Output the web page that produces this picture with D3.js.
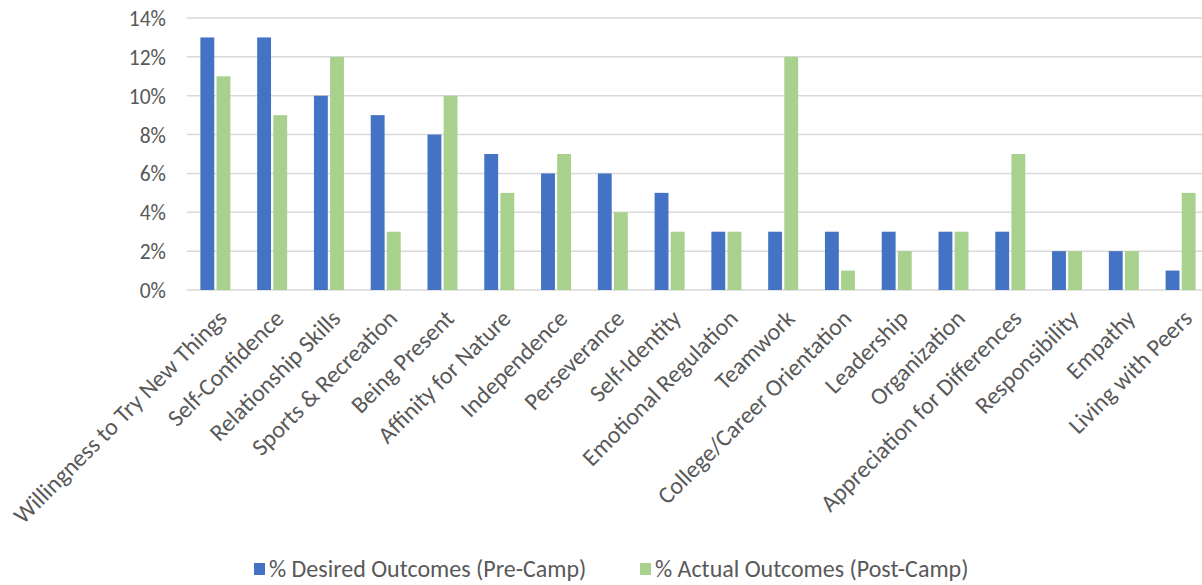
<!DOCTYPE html>
<html><head><meta charset="utf-8">
<script src="https://cdn.jsdelivr.net/npm/d3@7/dist/d3.min.js"></script>
<style>body{margin:0;background:#fff}svg{display:block}text{font-family:"Carlito","Calibri","Open Sans",sans-serif;fill:#595959}</style>
</head><body>
<script>
const categories = ["Willingness to Try New Things","Self-Confidence","Relationship Skills","Sports & Recreation","Being Present","Affinity for Nature","Independence","Perseverance","Self-Identity","Emotional Regulation","Teamwork","College/Career Orientation","Leadership","Organization","Appreciation for Differences","Responsibility","Empathy","Living with Peers"];
const desired = [13,13,10,9,8,7,6,6,5,3,3,3,3,3,3,2,2,1];
const actual = [11,9,12,3,10,5,7,4,3,3,12,1,2,3,7,2,2,5];
const seriesNames = ["% Desired Outcomes (Pre-Camp)","% Actual Outcomes (Post-Camp)"];
const colors = ["#4472C4","#A9D18E"];
const yTicks = [0,2,4,6,8,10,12,14];

const W=1202,H=585;
const svg=d3.select("body").append("svg").attr("width",W).attr("height",H);
const x=d3.scaleBand().domain(categories).range([187,1209]);
const y=d3.scaleLinear().domain([0,14]).range([290,18]);
const inner=d3.scaleBand().domain([0,1]).range([x.bandwidth()/2-15,x.bandwidth()/2+15]).paddingInner(0.14);

svg.append("g").selectAll("line").data(yTicks).join("line")
 .attr("x1",187).attr("x2",1202).attr("y1",d=>y(d)).attr("y2",d=>y(d))
 .attr("stroke","#d9d9d9").attr("stroke-width",1.5);

const yAxis=d3.axisLeft(y).tickValues(yTicks).tickFormat(d=>d+"%").tickSize(0).tickPadding(0);
const ga=svg.append("g").attr("transform","translate(166,0)").call(yAxis);
ga.select(".domain").remove();
ga.selectAll("text").style("font-size","21.5px").attr("fill","#595959").attr("dy","0.35em");

const groups=svg.append("g").selectAll("g").data(categories).join("g").attr("transform",d=>`translate(${x(d)},0)`);
[desired,actual].forEach((s,si)=>{
  groups.append("rect").attr("x",inner(si)).attr("width",inner.bandwidth())
   .attr("y",(d,i)=>y(s[i])).attr("height",(d,i)=>y(0)-y(s[i])).attr("fill",colors[si]);
});

const xl=svg.append("g").selectAll("text").data(categories).join("text")
 .attr("transform",d=>`translate(${x(d)+x.bandwidth()/2+7},${y(0)+24}) rotate(-45)`)
 .attr("text-anchor","end").attr("dy","0.35em").style("font-size","24px").text(d=>d);

const leg=svg.append("g");
const lx=[254,640];
seriesNames.forEach((n,i)=>{
  leg.append("rect").attr("x",lx[i]).attr("y",563).attr("width",11).attr("height",12).attr("fill",colors[i]);
  leg.append("text").attr("x",lx[i]+15).attr("y",569).attr("dy","0.35em").style("font-size","24px").text(n);
});
</script>
</body></html>
